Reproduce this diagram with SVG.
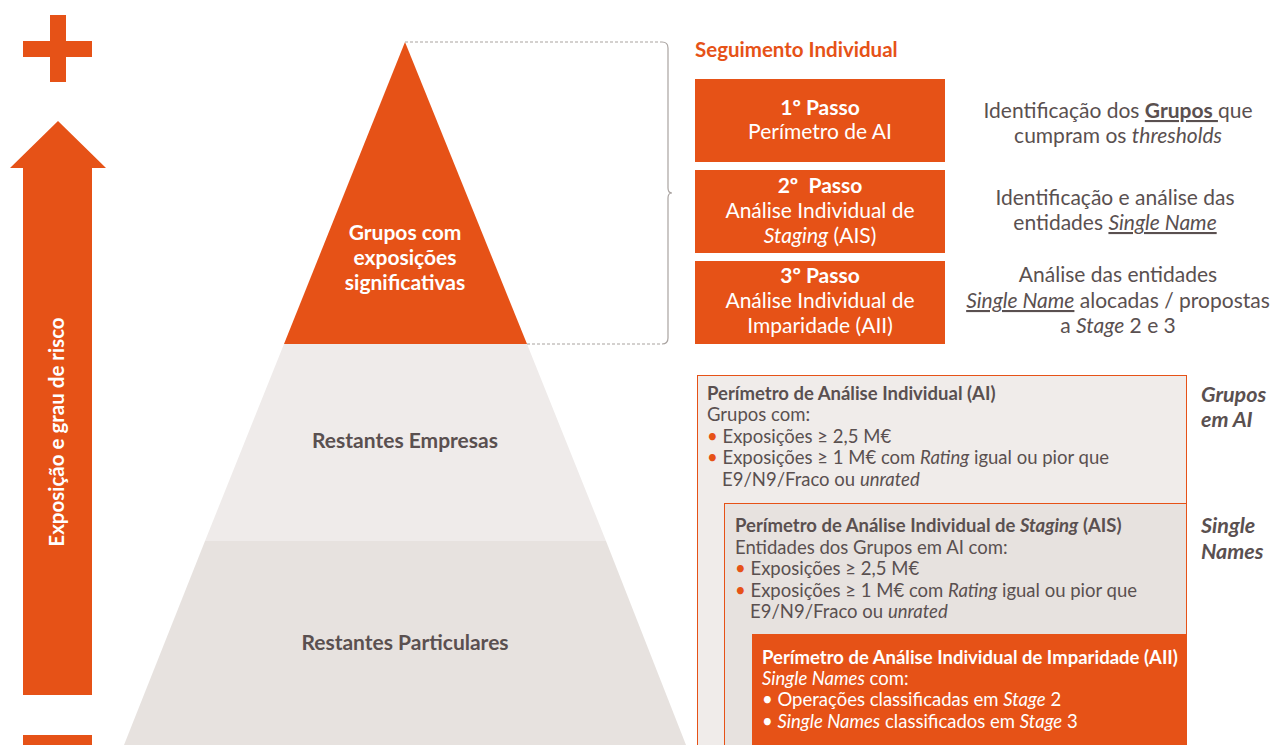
<svg xmlns="http://www.w3.org/2000/svg" width="1273" height="745" viewBox="0 0 1273 745">
<style>
text{font-family:Lato,"Liberation Sans",sans-serif;}
.or{fill:#E65217;}
.w{fill:#ffffff;}
.g{fill:#5a5050;}
.b{font-weight:bold;}
.i{font-style:italic;}
.c{text-anchor:middle;}
.s21{font-size:21px;}
.s18{font-size:18.5px;}
.bul{fill:#E65217;}
</style>
<rect width="1273" height="745" fill="#ffffff"/>
<g id="scale-arrow">
<rect class="or" x="50" y="15" width="16" height="67"/>
<rect class="or" x="23" y="41" width="69" height="16"/>
<polygon class="or" points="58,121 106,168 92,168 92,695 23,695 23,168 10,168"/>
<rect class="or" x="23" y="735" width="69" height="10"/>
<text class="w b" font-size="20.5" text-anchor="middle" transform="translate(64,432) rotate(-90)">Exposição e grau de risco</text>
</g>
<g id="pyramid">
<g id="level-particulares">
<polygon points="205,541 606,541 686,745 124,745" fill="#e7e2df"/>
<text class="g b c s21" x="405" y="650">Restantes Particulares</text>
</g>
<g id="level-empresas">
<polygon points="284,344 527,344 606,541 205,541" fill="#efebea"/>
<text class="g b c s21" x="405" y="448">Restantes Empresas</text>
</g>
<g id="level-grupos">
<polygon class="or" points="405,42 527,344 284,344"/>
<text class="w b c s21" x="405" y="240">Grupos com</text>
<text class="w b c s21" x="405" y="265">exposições</text>
<text class="w b c s21" x="405" y="290">significativas</text>
</g>
</g>
<g id="connectors" fill="none" stroke="#a9a3a0" stroke-width="1.2">
<line x1="405" y1="42" x2="662" y2="42" stroke-dasharray="3,2"/>
<line x1="527" y1="344" x2="662" y2="344" stroke-dasharray="3,2"/>
<path d="M662,42 Q668,42 668,48 L668,188 Q668,193 672,193 Q668,193 668,198 L668,338 Q668,344 662,344"/>
</g>
<g id="title">
<text class="or b" font-size="20.5" x="695" y="57">Seguimento Individual</text>
</g>
<g id="step1">
<rect class="or" x="695" y="79" width="250" height="83"/>
<text class="w c s21 b" x="820" y="115">1º Passo</text>
<text class="w c s21" x="820" y="139">Perímetro de AI</text>
</g>
<g id="step2">
<rect class="or" x="695" y="170" width="250" height="83"/>
<text class="w c s21 b" x="820" y="193" xml:space="preserve">2º  Passo</text>
<text class="w c s21" x="820" y="218">Análise Individual de</text>
<text class="w c s21" x="820" y="243"><tspan class="i">Staging</tspan> (AIS)</text>
</g>
<g id="step3">
<rect class="or" x="695" y="261" width="250" height="83"/>
<text class="w c s21 b" x="820" y="283">3º Passo</text>
<text class="w c s21" x="820" y="308">Análise Individual de</text>
<text class="w c s21" x="820" y="333">Imparidade (AII)</text>
</g>
<g id="desc1">
<text class="g c s21" x="1118" y="118">Identificação dos <tspan class="b" text-decoration="underline">Grupos </tspan>que</text>
<text class="g c s21" x="1118" y="143">cumpram os <tspan class="i">thresholds</tspan></text>
</g>
<g id="desc2">
<text class="g c s21" x="1115" y="205">Identificação e análise das</text>
<text class="g c s21" x="1115" y="230">entidades <tspan class="i" text-decoration="underline">Single Name</tspan></text>
</g>
<g id="desc3">
<text class="g c s21" x="1118" y="282">Análise das entidades</text>
<text class="g c s21" x="1118" y="308"><tspan class="i" text-decoration="underline">Single Name</tspan> alocadas / propostas</text>
<text class="g c s21" x="1118" y="333">a <tspan class="i">Stage</tspan> 2 e 3</text>
</g>
<g id="box-ai">
<rect x="697.5" y="375.5" width="489" height="375" fill="#f0ecea" stroke="#E65217" stroke-width="1"/>
<text class="g b s18" x="707" y="400">Perímetro de Análise Individual (AI)</text>
<text class="g s18" x="707" y="421">Grupos com:</text>
<text class="g s18" x="707" y="443"><tspan class="bul">•</tspan> Exposições ≥ 2,5 M€</text>
<text class="g s18" x="707" y="464"><tspan class="bul">•</tspan> Exposições ≥ 1 M€ com <tspan class="i">Rating</tspan> igual ou pior que</text>
<text class="g s18" x="722" y="486">E9/N9/Fraco ou <tspan class="i">unrated</tspan></text>
</g>
<g id="label-ai">
<text class="g b i" font-size="21.5" x="1201" y="402">Grupos</text>
<text class="g b i" font-size="21.5" x="1201" y="427">em AI</text>
</g>
<g id="box-ais">
<rect x="724.5" y="503.5" width="462" height="247" fill="#e7e2df" stroke="#E65217" stroke-width="1"/>
<text class="g b s18" x="735" y="532">Perímetro de Análise Individual de <tspan class="i">Staging</tspan> (AIS)</text>
<text class="g s18" x="735" y="554">Entidades dos Grupos em AI com:</text>
<text class="g s18" x="735" y="575"><tspan class="bul">•</tspan> Exposições ≥ 2,5 M€</text>
<text class="g s18" x="735" y="597"><tspan class="bul">•</tspan> Exposições ≥ 1 M€ com <tspan class="i">Rating</tspan> igual ou pior que</text>
<text class="g s18" x="750" y="618">E9/N9/Fraco ou <tspan class="i">unrated</tspan></text>
</g>
<g id="label-sn">
<text class="g b i" font-size="21.5" x="1201" y="533">Single</text>
<text class="g b i" font-size="21.5" x="1201" y="559">Names</text>
</g>
<g id="box-aii">
<rect class="or" x="752" y="634" width="435" height="111"/>
<text class="w b s18" x="762" y="664">Perímetro de Análise Individual de Imparidade (AII)</text>
<text class="w s18" x="762" y="685"><tspan class="i">Single Names</tspan> com:</text>
<text class="w s18" x="762" y="706">• Operações classificadas em <tspan class="i">Stage</tspan> 2</text>
<text class="w s18" x="762" y="728">• <tspan class="i">Single Names</tspan> classificados em <tspan class="i">Stage</tspan> 3</text>
</g>
</svg>
